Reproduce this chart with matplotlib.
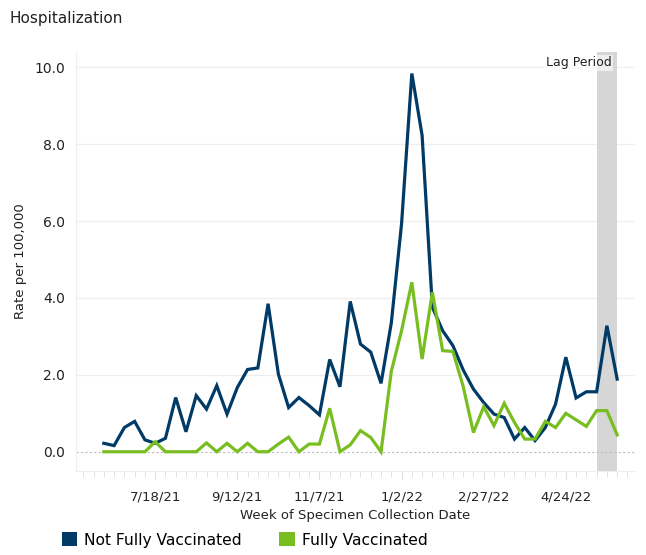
import numpy as np
import pandas as pd
import matplotlib
matplotlib.use("Agg")
import matplotlib.pyplot as plt
import matplotlib.dates as mdates
from matplotlib.patches import Patch

# weekly hospitalization rates per 100,000
weeks = pd.date_range("2021-06-13", periods=51, freq="W-SUN")
not_fully = [0.22, 0.16, 0.63, 0.79, 0.31, 0.22, 0.35, 1.41, 0.52, 1.46,
             1.11, 1.72, 0.98, 1.67, 2.14, 2.18, 3.85, 2.02, 1.15, 1.41,
             1.20, 0.96, 2.40, 1.69, 3.91, 2.80, 2.59, 1.78, 3.35, 5.93,
             9.84, 8.23, 3.76, 3.15, 2.76, 2.13, 1.63, 1.28, 0.98, 0.89,
             0.33, 0.63, 0.29, 0.63, 1.24, 2.46, 1.40, 1.56, 1.56, 3.28,
             1.89]
fully = [0, 0, 0, 0, 0, 0.26, 0, 0, 0, 0,
         0.23, 0, 0.22, 0, 0.22, 0, 0, 0.20, 0.38, 0,
         0.20, 0.20, 1.13, 0, 0.18, 0.55, 0.37, 0, 2.09, 3.15,
         4.41, 2.41, 4.15, 2.63, 2.61, 1.70, 0.50, 1.17, 0.68, 1.26,
         0.76, 0.33, 0.33, 0.79, 0.63, 1.00, 0.83, 0.66, 1.07, 1.07,
         0.44]
tick_labels = ["7/18/21", "9/12/21", "11/7/21", "1/2/22", "2/27/22", "4/24/22"]
lag_start, lag_end = "2022-05-15", "2022-05-29"

blue = "#003a66"
green = "#78be21"

fig = plt.figure(figsize=(6.46, 5.55), dpi=100)
ax = fig.add_axes([0.1176, 0.1514, 0.865, 0.755])
ax.set_axisbelow(True)

ax.axvspan(pd.Timestamp(lag_start), pd.Timestamp(lag_end), color="#d6d6d6", lw=0, zorder=2)
ax.axhline(0, color="#bbbbbb", lw=0.8, ls=(0, (2, 2)), zorder=2)
ax.plot(weeks, not_fully, color=blue, lw=2.3, zorder=3, solid_joinstyle="miter")
ax.plot(weeks, fully, color=green, lw=2.3, zorder=3, solid_joinstyle="miter")

ax.text(pd.Timestamp("2022-05-25"), 10.12, "Lag Period", ha="right", va="center",
        fontsize=9, color="#222222", zorder=4,
        bbox=dict(facecolor="white", alpha=0.6, edgecolor="none", pad=1))

ax.set_ylim(-0.5, 10.4)
ax.set_xlim(pd.Timestamp("2021-05-25"), pd.Timestamp("2022-06-10"))
ax.set_yticks([0, 2, 4, 6, 8, 10])
ax.set_yticklabels(["0.0", "2.0", "4.0", "6.0", "8.0", "10.0"])
ax.grid(axis="y", color="#eeeeee", lw=0.9)
ax.get_ygridlines()[0].set_visible(False)

ax.set_xticks([pd.Timestamp(t) for t in pd.to_datetime(tick_labels, format="%m/%d/%y")])
ax.set_xticklabels(tick_labels)
ax.xaxis.set_minor_locator(mdates.WeekdayLocator(byweekday=mdates.SU))

for s in ["top", "right"]:
    ax.spines[s].set_visible(False)
for s in ["left", "bottom"]:
    ax.spines[s].set_color("#eeeeee")
ax.tick_params(axis="y", length=0, labelsize=10, colors="#222222", pad=8)
ax.tick_params(axis="x", which="major", length=6, color="#dddddd", labelsize=9.5,
               labelcolor="#222222", pad=8)
ax.tick_params(axis="x", which="minor", length=4, color="#dddddd")

ax.set_xlabel("Week of Specimen Collection Date", fontsize=9.5, color="#222222", labelpad=4)
ax.set_ylabel("Rate per 100,000", fontsize=9.5, color="#222222", labelpad=5)

fig.text(0.015, 0.967, "Hospitalization", fontsize=11, color="#222222", va="center")

handles = [Patch(facecolor=blue, edgecolor="none"), Patch(facecolor=green, edgecolor="none")]
fig.legend(handles, ["Not Fully Vaccinated", "Fully Vaccinated"], loc="center left",
           bbox_to_anchor=(0.074, 0.027), ncol=2, frameon=False, fontsize=11.2,
           handlelength=1.0, handleheight=1.0, handletextpad=0.45, columnspacing=2.4)

fig.savefig("out.png", dpi=100)
